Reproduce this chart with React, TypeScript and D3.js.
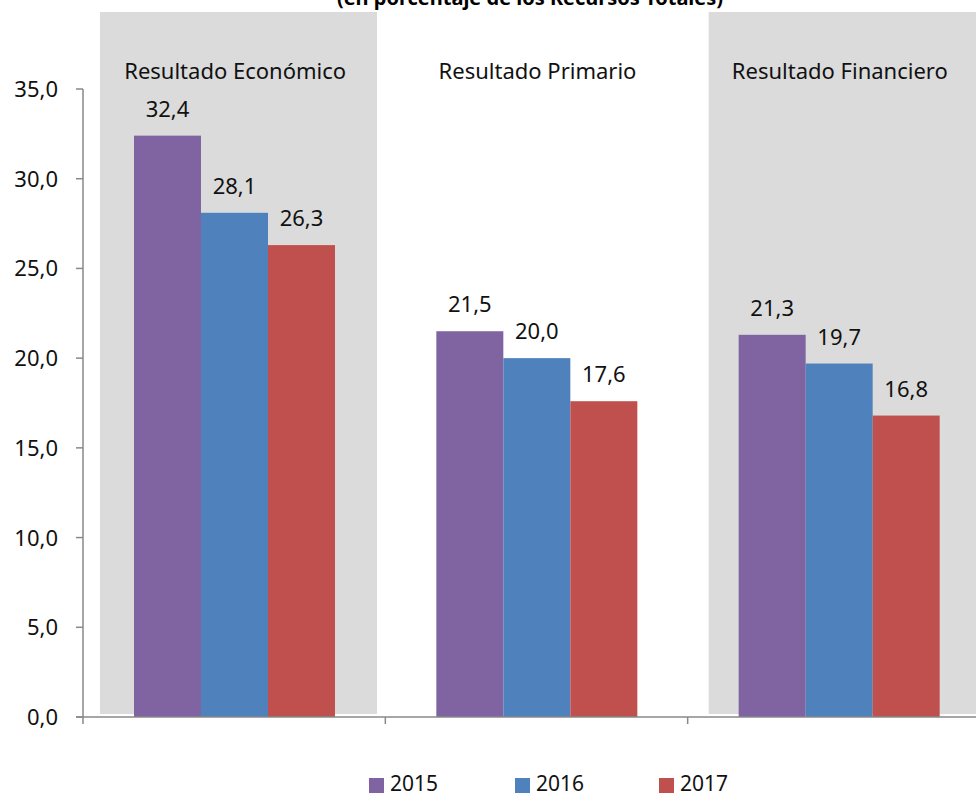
import * as d3 from 'd3';

const categories = ['Resultado Económico', 'Resultado Primario', 'Resultado Financiero'];
const years = ['2015', '2016', '2017'];
const values2015 = [32.4, 21.5, 21.3];
const values2016 = [28.1, 20.0, 19.7];
const values2017 = [26.3, 17.6, 16.8];
const yTicks = [0, 5, 10, 15, 20, 25, 30, 35];
const shaded = ['Resultado Económico', 'Resultado Financiero'];
const colors = ['#8064A2', '#4F81BD', '#C0504D'];

const W = 976;
const H = 798;
const font = '"Noto Sans", "Open Sans", sans-serif';

export default function App() {
  const series = [values2015, values2016, values2017];
  const x = d3.scaleBand<string>().domain(categories).range([83, 990]);
  const y = d3.scaleLinear().domain([0, 35]).range([717, 89]);
  const step = x.step();
  const inner = d3.scaleBand<string>().domain(years).range([51, 252]);
  const fmt = (v: number) => v.toFixed(1).replace('.', ',');
  const legendX = [369, 515, 659];
  const bgOffset = [17, 0, 21];

  return (
    <svg width={W} height={H} style={{ position: 'absolute', left: 0, top: 0 }} fontFamily={font}>
      <rect width={W} height={H} fill="#fff" />
      <text x={530} y={5} textAnchor="middle" fontWeight="bold" fontSize={20} fill="#000">
        (en porcentaje de los Recursos Totales)
      </text>
      {categories.map((c, ci) =>
        shaded.includes(c) ? (
          <rect key={'bg' + c} x={(x(c) ?? 0) + bgOffset[ci]} y={12} width={277} height={702} fill="#DBDBDB" />
        ) : null
      )}
      {categories.map((c) => (
        <text key={'lbl' + c} x={(x(c) ?? 0) + step / 2 + 1} y={79} textAnchor="middle" fontSize={22} fill="#111">
          {c}
        </text>
      ))}
      {categories.map((c, ci) =>
        years.map((yr, si) => {
          const v = series[si][ci];
          const bx = (x(c) ?? 0) + (inner(yr) ?? 0);
          const bw = inner.bandwidth();
          return (
            <g key={c + yr}>
              <rect x={bx} y={y(v)} width={bw} height={y(0) - y(v)} fill={colors[si]} />
              <text x={bx + bw / 2} y={y(v) - 19} textAnchor="middle" fontSize={22} fill="#111">
                {fmt(v)}
              </text>
            </g>
          );
        })
      )}
      <line x1={83} x2={83} y1={89} y2={717} stroke="#898989" strokeWidth={1.5} />
      {yTicks.map((t) => (
        <g key={'yt' + t}>
          <line x1={76} x2={83} y1={y(t)} y2={y(t)} stroke="#898989" strokeWidth={1.5} />
          <text x={58} y={y(t) + 8} textAnchor="end" fontSize={22} fill="#111">
            {fmt(t)}
          </text>
        </g>
      ))}
      <line x1={76} x2={W} y1={717} y2={717} stroke="#898989" strokeWidth={1.5} />
      {categories.map((c) => (
        <line key={'xt' + c} x1={x(c) ?? 0} x2={x(c) ?? 0} y1={717} y2={724} stroke="#898989" strokeWidth={1.5} />
      ))}
      {years.map((yr, i) => (
        <g key={'lg' + yr}>
          <rect x={legendX[i]} y={778} width={15} height={15} fill={colors[i]} />
          <text x={legendX[i] + 21} y={791} fontSize={21} fill="#111">
            {yr}
          </text>
        </g>
      ))}
    </svg>
  );
}
